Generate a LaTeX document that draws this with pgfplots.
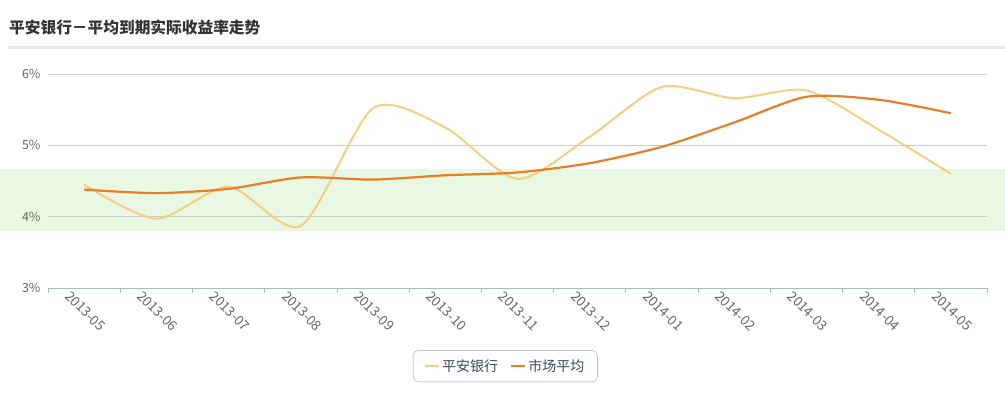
\documentclass[border=0pt]{standalone}
\usepackage{fontspec}
\setmainfont{Noto Sans CJK SC}
\usepackage{pgfplots}
\pgfplotsset{compat=1.18}
\definecolor{cyel}{RGB}{245,206,130}
\definecolor{corg}{RGB}{232,126,38}
\definecolor{gridc}{RGB}{204,204,204}
\definecolor{axc}{RGB}{170,184,204}
\definecolor{txt}{RGB}{102,102,102}
\definecolor{legtxt}{RGB}{60,72,90}
\definecolor{band}{RGB}{232,248,226}
\begin{document}
\begin{tikzpicture}
\useasboundingbox (0,0) rectangle (1005pt,400pt);
\fill[white] (0,0) rectangle (1005pt,400pt);
\node[anchor=west, inner sep=0pt, font=\fontsize{15.7}{15.7}\selectfont\bfseries, text=black!80] at (9pt,373pt) {平安银行－平均到期实际收益率走势};
\draw[line width=3pt, color=black!10] (8pt,352pt) -- (1005pt,352pt);
\fill[band] (0pt,169pt) rectangle (1005pt,231pt);
\begin{axis}[
  at={(48pt,112pt)}, anchor=south west,
  scale only axis, width=939pt, height=214pt,
  xmin=-0.5, xmax=12.5, ymin=3, ymax=6,
  axis x line=bottom, axis y line=left,
  axis line style={-, draw=axc},
  y axis line style={draw=none},
  xtick={0,...,12},
  xticklabels={2013-05,2013-06,2013-07,2013-08,2013-09,2013-10,2013-11,2013-12,2014-01,2014-02,2014-03,2014-04,2014-05},
  minor xtick={-0.5,0.5,...,12.5},
  major tick length=0pt,
  minor tick length=5pt,
  tick align=outside,
  minor x tick style={draw=axc, line width=0.8pt},
  ytick={3,4,5,6},
  yticklabels={3\%,4\%,5\%,6\%},
  ymajorgrids,
  grid style={draw=gridc, line width=0.8pt},
  ytick style={draw=none},
  yticklabel style={font=\fontsize{12.5}{12.5}\selectfont, text=txt, xshift=-4pt},
  xticklabel style={font=\fontsize{13.5}{13.5}\selectfont, text=txt, anchor=north west, rotate=-45, xshift=-11pt, yshift=-7pt},
  legend style={at={(0.487,-0.365)}, anchor=center, legend columns=2,
    draw=black!35, rounded corners=5pt, font=\fontsize{14}{14}\selectfont, text=legtxt,
    inner xsep=11pt, inner ysep=7pt,
    /tikz/every even column/.append style={column sep=10pt}},
  legend image code/.code={\draw[#1] (0pt,0pt) -- (14pt,0pt);},
]
\addplot[color=cyel, line width=2pt, smooth, tension=0.45] coordinates {
 (0,4.45) (1,3.97) (2,4.42) (3,3.87) (4,5.52) (5,5.25) (6,4.53) (7,5.12) (8,5.82) (9,5.66) (10,5.77) (11,5.22) (12,4.60)};
\addlegendentry{平安银行}
\addplot[color=corg, line width=2.2pt, smooth, tension=0.45] coordinates {
 (0,4.38) (1,4.33) (2,4.39) (3,4.55) (4,4.52) (5,4.58) (6,4.62) (7,4.75) (8,4.98) (9,5.32) (10,5.68) (11,5.64) (12,5.45)};
\addlegendentry{市场平均}
\end{axis}
\end{tikzpicture}
\end{document}
